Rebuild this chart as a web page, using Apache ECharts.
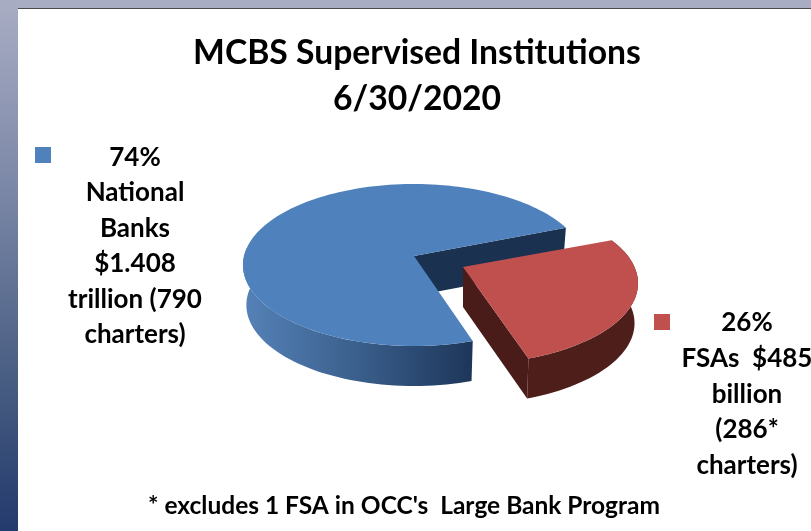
<!DOCTYPE html>
<html>
<head>
<meta charset="utf-8">
<style>html,body{margin:0;padding:0;background:#fff}#c{width:811px;height:531px}</style>
<script src="https://cdn.jsdelivr.net/npm/echarts@6/dist/echarts.min.js"></script>
</head>
<body>
<div id="c"></div>
<script>
const categories = ['National Banks', 'FSAs'];
const shares = [74, 26];
const titleText = 'MCBS Supervised Institutions\n6/30/2020';
const noteText = "* excludes 1 FSA in OCC's  Large Bank Program";
const bankLabel = ['74%', 'National', 'Banks', '$1.408', 'trillion (790', 'charters)'];
const fsaLabel = ['26%', 'FSAs  $485', 'billion', '(286*', 'charters)'];
const topColors = ['#4f81bd', '#c0504d'];
const innerColors = ['#1b3150', '#4e1e1b'];
const FONT = 'Lato';

// pseudo-3D pie: perspective ellipse, one origin and projection per exploded slice
const origins = [[414, 256], [463, 267]];
const projections = [{ A: 170, B: 80, K: 0.111 }, { A: 171.5, B: 78, K: 0.2 }];
const DEPTH = 40, BOTTOM_SCALE_X = 0.98, START = 72;

function rim(i, deg, bottom) {
  const o = origins[i], p = projections[i];
  const a = deg * Math.PI / 180, w = 1 - p.K * Math.sin(a);
  const s = bottom ? BOTTOM_SCALE_X : 1;
  return [o[0] + s * p.A * Math.cos(a) / w, o[1] + p.B * Math.sin(a) / w + (bottom ? DEPTH : 0)];
}
function arc(i, from, to, bottom) {
  const n = Math.max(2, Math.ceil(Math.abs(to - from) / 2)), pts = [];
  for (let k = 0; k <= n; k++) pts.push(rim(i, from + (to - from) * k / n, bottom));
  return pts;
}
const total = shares.reduce((a, b) => a + b, 0);

function renderItem(params, api) {
  const i = params.dataIndex;
  let from = START;
  for (let j = 0; j < i; j++) from += shares[j] / total * 360;
  const to = from + api.value(0) / total * 360;
  const o = origins[i];
  const oBottom = [o[0], o[1] + DEPTH];
  const children = [];
  const poly = (points, fill) => children.push({ type: 'polygon', shape: { points }, style: { fill } });
  if (i === 0) {
    // far cut face
    poly([o, rim(i, to, false), rim(i, to, true), oBottom], innerColors[0]);
    // front wall with shading
    poly(arc(i, from, 186, false).concat(arc(i, 186, from, true)), {
      type: 'linear', x: 1, y: 0, x2: 0, y2: 0,
      colorStops: [{ offset: 0, color: '#1d3659' }, { offset: 0.5, color: '#3a5f8c' }, { offset: 1, color: '#5582b8' }]
    });
    poly([o].concat(arc(i, from, to, false)), topColors[0]);
  } else {
    // front wall and near cut face
    poly(arc(i, from, to, false).concat(arc(i, to, from, true)), innerColors[1]);
    poly([o, rim(i, to, false), rim(i, to, true), oBottom], '#491c19');
    poly([o].concat(arc(i, from, to, false)), topColors[1]);
  }
  return { type: 'group', children };
}

function labelText(lines, cx, y0, step) {
  return lines.map((t, i) => ({
    type: 'text', x: cx, y: y0 + i * step, z: 10,
    style: { text: t, font: 'bold 26px ' + FONT, fill: '#000', align: 'center', verticalAlign: 'middle' }
  }));
}

const chart = echarts.init(document.getElementById('c'), null, { renderer: 'canvas' });
chart.setOption({
  animation: false,
  backgroundColor: '#fff',
  title: [{
    text: titleText, left: 412, top: 25, textAlign: 'center',
    textStyle: { fontFamily: FONT, fontWeight: 'bold', fontSize: 33.7, lineHeight: 46, color: '#000' }
  }, {
    text: noteText, left: 399, top: 487, textAlign: 'center',
    textStyle: { fontFamily: FONT, fontWeight: 'bold', fontSize: 24.5, lineHeight: 28, color: '#000' }
  }],
  graphic: [
    { type: 'rect', shape: { x: 0, y: 0, width: 811, height: 9 }, style: { fill: '#a9adc4' }, z: 1 },
    { type: 'rect', shape: { x: 0, y: 0, width: 18, height: 531 }, z: 2, style: { fill: {
      type: 'linear', x: 0, y: 0, x2: 0, y2: 1,
      colorStops: [{ offset: 0, color: '#a9adc4' }, { offset: 0.34, color: '#7d89a8' }, { offset: 0.75, color: '#43597f' }, { offset: 1, color: '#233a6d' }]
    } } },
    { type: 'rect', shape: { x: 18, y: 8, width: 793, height: 1 }, style: { fill: '#4a4a4f' }, z: 3 },
    { type: 'rect', shape: { x: 35, y: 147, width: 16, height: 16 }, style: { fill: topColors[0] }, z: 10 },
    { type: 'rect', shape: { x: 654, y: 314, width: 16, height: 16 }, style: { fill: topColors[1] }, z: 10 },
    ...labelText(bankLabel, 135, 157.5, 35.5),
    ...labelText(fsaLabel, 747, 323, 35.7)
  ],
  series: [{
    type: 'custom',
    name: 'MCBS Supervised Institutions',
    coordinateSystem: 'none',
    silent: true,
    renderItem,
    data: categories.map((c, i) => ({ name: c, value: [shares[i]] }))
  }]
});
</script>
</body>
</html>
